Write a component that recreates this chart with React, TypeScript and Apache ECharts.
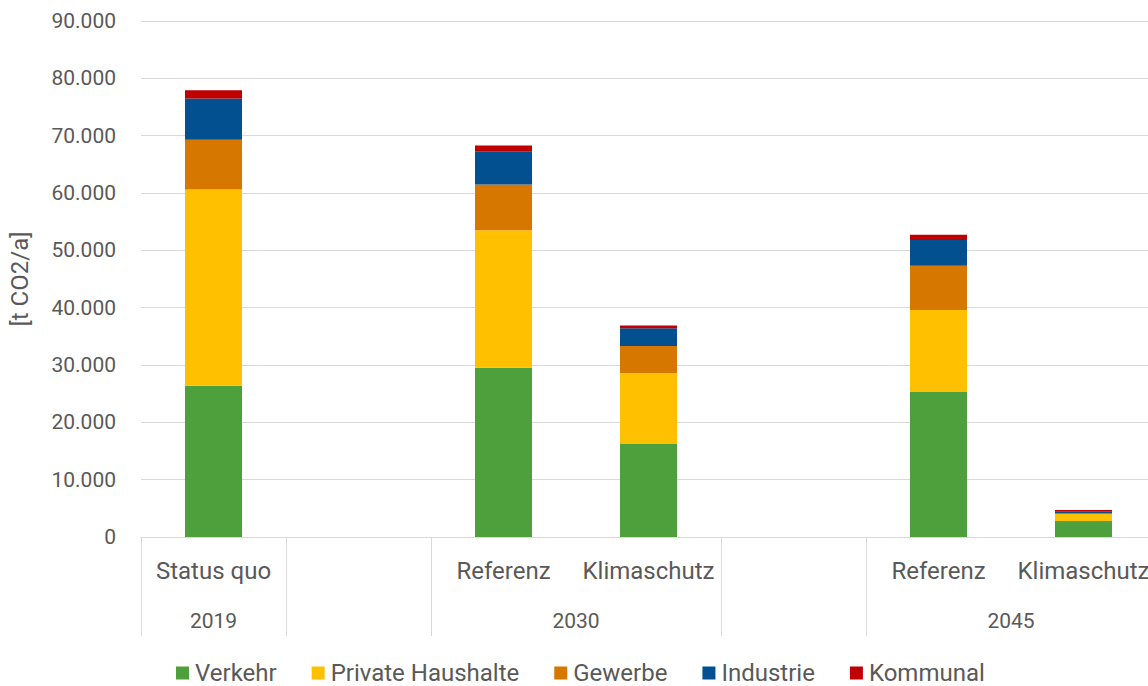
import React, { useEffect, useRef } from "react";
import * as echarts from "echarts";

const categories = ["Status quo", "", "Referenz", "Klimaschutz", "", "Referenz", "Klimaschutz"];
const groupLabels = ["2019", "2030", "2045"];
const groupCenters = [0.5, 3, 6];
const groupBoundaries = [0, 1, 2, 4, 5, 7];

const verkehr = [26400, null, 29500, 16300, null, 25300, 2800];
const privateHaushalte = [34200, null, 24000, 12300, null, 14300, 1200];
const gewerbe = [8700, null, 8000, 4700, null, 7700, 200];
const industrie = [7200, null, 5800, 3100, null, 4500, 200];
const kommunal = [1400, null, 1000, 500, null, 900, 300];

const seriesNames = ["Verkehr", "Private Haushalte", "Gewerbe", "Industrie", "Kommunal"];
const seriesColors = ["#4EA03C", "#FFC000", "#D67800", "#02508F", "#C00000"];
const seriesData = [verkehr, privateHaushalte, gewerbe, industrie, kommunal];

const yTicks = { min: 0, max: 90000, interval: 10000 };

const FONT = "Roboto, 'DejaVu Sans', sans-serif";
const TEXT = "#595959";
const GRID = "#D9D9D9";

export default function App() {
  const ref = useRef<HTMLDivElement>(null);
  useEffect(() => {
    if (!ref.current) return;
    const chart = echarts.init(ref.current, undefined, { renderer: "svg" });
    chart.setOption({
      animation: false,
      textStyle: { fontFamily: FONT, color: TEXT },
      grid: { left: 141, right: 0, top: 21, bottom: 149, containLabel: false },
      legend: {
        top: 656,
        left: 171,
        itemWidth: 13,
        itemHeight: 13,
        itemGap: 35,
        icon: "rect",
        textStyle: { fontFamily: FONT, fontSize: 24, color: TEXT, padding: [0, 0, 0, 1] },
        data: seriesNames,
      },
      xAxis: [
        {
          type: "category",
          data: categories,
          position: "bottom",
          axisLine: { show: true, lineStyle: { color: GRID, width: 1 } },
          axisTick: { show: false },
          axisLabel: { interval: 0, margin: 22, fontSize: 24, color: TEXT, fontFamily: FONT },
          splitLine: { show: false },
        },
        {
          type: "value",
          min: 0,
          max: 7,
          position: "bottom",
          axisLine: { show: false },
          splitLine: { show: false },
          axisTick: {
            show: true,
            customValues: groupBoundaries,
            length: 99,
            lineStyle: { color: GRID, width: 1 },
          },
          axisLabel: {
            customValues: groupCenters,
            margin: 73,
            fontSize: 21,
            color: TEXT,
            fontFamily: FONT,
            formatter: (v: number) => {
              const i = groupCenters.indexOf(v);
              return i >= 0 ? groupLabels[i] : "";
            },
          },
        },
      ],
      yAxis: {
        type: "value",
        min: yTicks.min,
        max: yTicks.max,
        interval: yTicks.interval,
        name: "[t CO2/a]",
        nameLocation: "middle",
        nameGap: 109,
        nameTextStyle: { fontSize: 24, color: TEXT, fontFamily: FONT },
        axisLine: { show: false },
        axisTick: { show: false },
        axisLabel: {
          margin: 25,
          fontSize: 21,
          color: TEXT,
          fontFamily: FONT,
          formatter: (v: number) => (v === 0 ? "0" : v.toLocaleString("de-DE")),
        },
        splitLine: { lineStyle: { color: GRID, width: 1 } },
      },
      series: seriesNames.map((name, i) => ({
        name,
        type: "bar",
        stack: "total",
        xAxisIndex: 0,
        barWidth: 57,
        data: seriesData[i],
        itemStyle: { color: seriesColors[i] },
      })),
    });
    return () => chart.dispose();
  }, []);
  return (
    <div style={{ position: "absolute", left: 0, top: 0, width: 1148, height: 686, overflow: "hidden" }}>
      <div ref={ref} style={{ width: 1156, height: 686 }} />
    </div>
  );
}
